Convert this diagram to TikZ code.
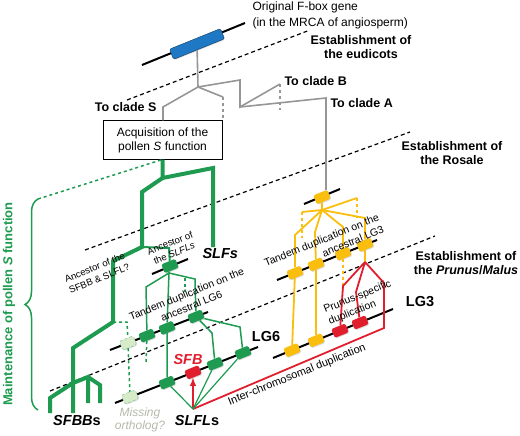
\documentclass[tikz,border=0pt]{standalone}
\usepackage{fontspec}
\setmainfont{Liberation Sans}
\usetikzlibrary{calc, positioning, decorations.pathreplacing, shadows}

\definecolor{sgreen}{RGB}{30,155,80}
\definecolor{syellow}{RGB}{250,190,15}
\definecolor{sred}{RGB}{225,30,45}
\definecolor{sblue}{RGB}{30,120,195}
\definecolor{sgray}{RGB}{150,150,150}
\definecolor{smiss}{RGB}{215,235,200}
\definecolor{smisstxt}{RGB}{180,185,170}

\tikzset{
  gene/.style={rounded corners=1.5pt, rotate=22, minimum width=15pt, minimum height=9.5pt, inner sep=0pt,
    drop shadow={shadow xshift=0.8pt, shadow yshift=-0.8pt, opacity=0.3}},
  miss/.style={gene, fill=smiss, draw=sgreen!60, densely dashed, thin},
  chrom/.style={line width=2pt},
  estab/.style={line width=1.2pt, dash pattern=on 4pt off 3pt},
  grayl/.style={sgray, line width=1.6pt},
  gthick/.style={sgreen, line width=4pt},
  gthin/.style={sgreen, line width=1.5pt},
  yell/.style={syellow, line width=1.8pt},
  redl/.style={sred, line width=1.8pt},
  big/.style={font=\bfseries\fontsize{12.5}{14}\selectfont},
  huge/.style={font=\bfseries\fontsize{14.5}{16}\selectfont},
  rot/.style={rotate=22, font=\fontsize{10.5}{13}\selectfont},
}

\begin{document}
\begin{tikzpicture}[x=1pt, y=-1pt, >=latex, font=\fontsize{12}{14}\selectfont]
\useasboundingbox (0,0) rectangle (520,436);

% establishment lines
\draw[estab] (127,100) -- (310,30);
\draw[estab] (85,250) -- (410,132);
\draw[estab] (50,391) -- (435,236);
\node[big, align=center] (eud) at (361,47) {Establishment of\\the eudicots};
\node[big, align=center] (ros) at (452,153) {Establishment of\\the Rosale};
\node[big, align=center] (pm) at (466,263) {Establishment of\\the \textit{Prunus}/\textit{Malus}};

% chromosomes
\draw[chrom] (142,65) -- (245,23);
\draw[chrom] (152,274) -- (188,259);
\draw[chrom] (110,350) -- (208,312);
\draw[chrom] (115,403) -- (258,347);
\draw[chrom] (304,204) -- (340,189);
\draw[chrom] (277,280) -- (377,240);
\draw[chrom] (273,358) -- (393,309);

% genes
\node[gene, fill=sblue, draw=sblue!50!black, minimum width=55pt, minimum height=11pt] (fbox) at (197,44) {};
\node[gene, fill=sgreen] (s0) at (170,266) {};
\node[miss] (m1) at (128,343) {};
\node[gene, fill=sgreen] (a1) at (147,335.6) {};
\node[gene, fill=sgreen] (a2) at (167,327.9) {};
\node[gene, fill=sgreen] (a3) at (196,316.6) {};
\node[miss] (m2) at (130,397) {};
\node[gene, fill=sgreen] (b1) at (167,382.6) {};
\node[gene, fill=sred] (sfb) at (193,372.4) {};
\node[gene, fill=sgreen] (b3) at (215,363.8) {};
\node[gene, fill=sgreen] (b4) at (243,352.8) {};
\node[gene, fill=syellow] (y0) at (322,197) {};
\node[gene, fill=syellow] (yb1) at (295,272.8) {};
\node[gene, fill=syellow] (yb2) at (316,264.4) {};
\node[gene, fill=syellow] (yb3) at (343,253.6) {};
\node[gene, fill=syellow] (yb4) at (365,244.8) {};
\node[gene, fill=syellow] (ly1) at (292,350.2) {};
\node[gene, fill=syellow] (ly2) at (316,340.4) {};
\node[gene, fill=sred] (lr1) at (340,330.7) {};
\node[gene, fill=sred] (lr2) at (360,322.5) {};

\node[anchor=west, align=left, font=\fontsize{12}{16}\selectfont] (orig) at (249,15) {Original F-box gene\\(in the MRCA of angiosperm)};

% gray tree
\node[draw, line width=1pt, minimum width=119pt, minimum height=38pt, align=center] (acq) at (162.5,140) {Acquisition of the\\pollen \textit{S} function};
\coordinate (g0) at (198,87);
\draw[grayl] (fbox) -- (g0) -- (163,107) coordinate (cS) -- (cS |- acq.north);
\draw[grayl] (g0) -- (223,97) coordinate (cX);
\draw[grayl, dashed] (cX) -- (cX |- acq.north);
\draw[grayl] (g0) -- (240,80) -- (240,107) coordinate (g1) -- (280,84) coordinate (cB);
\draw[grayl, dashed] (cB) -- (280,110);
\draw[grayl] (g1) -- (326,98) coordinate (cA) -- (326,190);
\node[big, left=3pt of cS] (toS) {To clade S};
\node[big, right=1pt of cB, yshift=3pt] (toB) {To clade B};
\node[big, right=1pt of cA, yshift=-5pt] (toA) {To clade A};

% green tree
\coordinate (gj) at (162.5,178);
\draw[gthick] (acq.south) -- (gj) -- (213,168) -- (213,247) coordinate (gs);
\draw[gthick] (gj) -- (142,192) -- (142,247) coordinate (ga) -- (113,261) -- (113,322) coordinate (gb)
  -- (73,348) -- (73,383) coordinate (gc) -- (73,413);
\draw[gthick] (gc) -- (50,398) -- (50,413);
\draw[gthick] (gc) -- (88,377) coordinate (gd) -- (88,403);
\draw[gthick] (gd) -- (100,385) -- (100,403);
\draw[gthin, line width=2pt] (ga) -- (169,248) -- (s0);
\draw[gthin, dashed] (gb) -- (127,322) -- (m1) -- (m2);
\node[huge, below right=-2pt and -14pt of gs] (slfs) {\textit{SLFs}};

\coordinate (sj) at (169,273);
\draw[gthin] (s0) -- (sj) -- (146,287) -- (a1);
\draw[gthin, dashed] (a1) -- (146,362);
\draw[gthin] (sj) -- (a2) -- (b1);
\draw[gthin] (sj) -- (195,279) coordinate (sk) -- (a3);
\draw[gthin, dashed] (185,278) -- (185,292);
\draw[gthin] (a3) -- (212,333) -- (b3);
\draw[gthin] (a3) -- (240,327) -- (b4);

% yellow tree
\coordinate (yj) at (322,210);
\draw[yell] (y0) -- (yj) -- (302,212) coordinate (yl);
\draw[yell, dashed] (yl) -- ++(0,26);
\draw[yell] (yj) -- (357,198) coordinate (yr);
\draw[yell, dashed] (yr) -- ++(0,20);
\draw[yell] (yj) -- (295,235) -- (yb1) -- (ly1);
\draw[yell] (yj) -- (315,232) -- (yb2) -- (ly2);
\draw[yell] (yj) -- (343,227) -- (yb3);
\draw[yell, dashed] (yb3) -- (343,290);
\draw[yell] (yj) -- (365,218) -- (yb4) -- (365,262) coordinate (rj);

% red
\coordinate (sl) at (193,409);
\draw[redl] (rj) -- (343,286) -- (lr1);
\draw[redl] (rj) -- (356,292) -- (lr2);
\draw[redl] (rj) -- (384,283) -- (384,328) -- (sl);
\draw[redl, ->] (sl) -- (sfb);
\draw[gthin, line width=1.2pt] (sl) -- (b1);
\draw[gthin, line width=1.2pt] (sl) -- (b3);
\draw[gthin, line width=1.2pt] (sl) -- (b4);

% labels
\node[huge] (sfbbs) at (77,421) {\textit{SFBB}s};
\node[huge] (slfls) at (197,421) {\textit{SLFL}s};
\node[huge, text=sred] (sfbl) at (188,360) {\textit{SFB}};
\node[align=center, text=smisstxt, font=\itshape\fontsize{12}{13}\selectfont] (missl) at (140,420) {Missing\\ortholog?};
\node[huge] (lg6) at (266,337) {LG6};
\node[huge] (lg3) at (420,302) {LG3};
\node[rot, align=center, font=\fontsize{9.5}{12}\selectfont] (anc1) at (97,273) {Ancestor of the\\SFBB \& SLFL?};
\node[rot, align=center, font=\fontsize{9.5}{11}\selectfont] (anc2) at (172,248) {Ancestor of\\the \textit{SLFLs}};
\node[rot, align=center] (tand6) at (189,300) {Tandem duplication on the\\ancestral LG6};
\node[rot, align=right] (tand3) at (324,246) {Tandem duplication on the\\ancestral LG3};
\node[rot, align=left] (prun) at (360,303) {Prunus-specific\\duplication};
\node[rot, font=\fontsize{11}{13}\selectfont] (inter) at (297,375) {Inter-chromosomal duplication};

% brace
\draw[gthin, decorate, decoration={brace, amplitude=13pt}] (38,410) -- (38,199);
\draw[gthin, dashed] (38,199) -- (acq.south);
\node[rotate=90, text=sgreen, font=\bfseries\fontsize{13}{15}\selectfont] (maint) at (9,304) {Maintenance of pollen \textit{S} function};
\end{tikzpicture}
\end{document}
